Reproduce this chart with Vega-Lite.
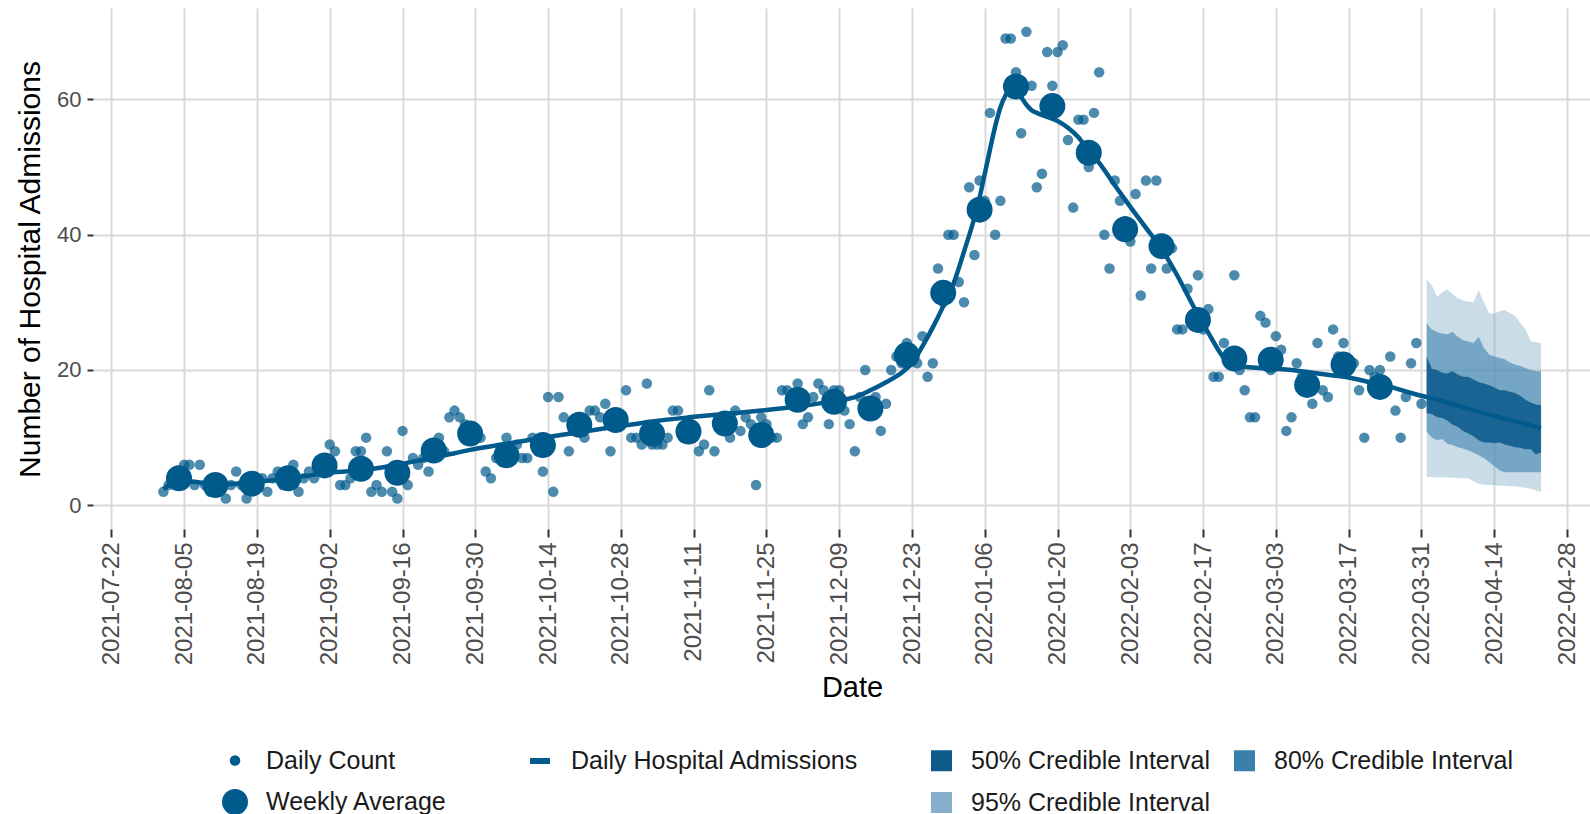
{
"$schema": "https://vega.github.io/schema/vega-lite/v6.json",
"autosize": {"type": "none"},
"padding": {"left": 93, "top": 8, "right": 0, "bottom": 285},
"width": 1497,
"height": 521,
"background": "white",
"config": {
  "font": "Liberation Sans",
  "view": {"stroke": null},
  "legend": {"labelFont": "Liberation Sans", "labelFontSize": 25, "labelColor": "#1a1a1a", "labelLimit": 400}
},
"datasets": {
  "daily": [
    {"date":"2021-08-01","v":2},{"date":"2021-08-02","v":3},{"date":"2021-08-03","v":4},{"date":"2021-08-04","v":4},{"date":"2021-08-05","v":6},{"date":"2021-08-06","v":6},{"date":"2021-08-07","v":3},
    {"date":"2021-08-08","v":6},{"date":"2021-08-09","v":3},{"date":"2021-08-10","v":2},{"date":"2021-08-11","v":3},{"date":"2021-08-12","v":3},{"date":"2021-08-13","v":1},{"date":"2021-08-14","v":3},
    {"date":"2021-08-15","v":5},{"date":"2021-08-16","v":3},{"date":"2021-08-17","v":1},{"date":"2021-08-18","v":4},{"date":"2021-08-19","v":3},{"date":"2021-08-20","v":4},{"date":"2021-08-21","v":2},
    {"date":"2021-08-22","v":4},{"date":"2021-08-23","v":5},{"date":"2021-08-24","v":3},{"date":"2021-08-25","v":4},{"date":"2021-08-26","v":6},{"date":"2021-08-27","v":2},{"date":"2021-08-28","v":4},
    {"date":"2021-08-29","v":5},{"date":"2021-08-30","v":4},{"date":"2021-08-31","v":6},{"date":"2021-09-01","v":6},{"date":"2021-09-02","v":9},{"date":"2021-09-03","v":8},{"date":"2021-09-04","v":3},
    {"date":"2021-09-05","v":3},{"date":"2021-09-06","v":4},{"date":"2021-09-07","v":8},{"date":"2021-09-08","v":8},{"date":"2021-09-09","v":10},{"date":"2021-09-10","v":2},{"date":"2021-09-11","v":3},
    {"date":"2021-09-12","v":2},{"date":"2021-09-13","v":8},{"date":"2021-09-14","v":2},{"date":"2021-09-15","v":1},{"date":"2021-09-16","v":11},{"date":"2021-09-17","v":3},{"date":"2021-09-18","v":7},
    {"date":"2021-09-19","v":6},{"date":"2021-09-20","v":7},{"date":"2021-09-21","v":5},{"date":"2021-09-22","v":9},{"date":"2021-09-23","v":10},{"date":"2021-09-24","v":8},{"date":"2021-09-25","v":13},
    {"date":"2021-09-26","v":14},{"date":"2021-09-27","v":13},{"date":"2021-09-28","v":12},{"date":"2021-09-29","v":10},{"date":"2021-09-30","v":10},{"date":"2021-10-01","v":10},{"date":"2021-10-02","v":5},
    {"date":"2021-10-03","v":4},{"date":"2021-10-04","v":7},{"date":"2021-10-05","v":8},{"date":"2021-10-06","v":10},{"date":"2021-10-07","v":7},{"date":"2021-10-08","v":9},{"date":"2021-10-09","v":7},
    {"date":"2021-10-10","v":7},{"date":"2021-10-11","v":10},{"date":"2021-10-12","v":8},{"date":"2021-10-13","v":5},{"date":"2021-10-14","v":16},{"date":"2021-10-15","v":2},{"date":"2021-10-16","v":16},
    {"date":"2021-10-17","v":13},{"date":"2021-10-18","v":8},{"date":"2021-10-19","v":12},{"date":"2021-10-20","v":12},{"date":"2021-10-21","v":10},{"date":"2021-10-22","v":14},{"date":"2021-10-23","v":14},
    {"date":"2021-10-24","v":13},{"date":"2021-10-25","v":15},{"date":"2021-10-26","v":8},{"date":"2021-10-27","v":13},{"date":"2021-10-28","v":12},{"date":"2021-10-29","v":17},{"date":"2021-10-30","v":10},
    {"date":"2021-10-31","v":10},{"date":"2021-11-01","v":9},{"date":"2021-11-02","v":18},{"date":"2021-11-03","v":9},{"date":"2021-11-04","v":9},{"date":"2021-11-05","v":9},{"date":"2021-11-06","v":10},
    {"date":"2021-11-07","v":14},{"date":"2021-11-08","v":14},{"date":"2021-11-09","v":10},{"date":"2021-11-10","v":11},{"date":"2021-11-11","v":10},{"date":"2021-11-12","v":8},{"date":"2021-11-13","v":9},
    {"date":"2021-11-14","v":17},{"date":"2021-11-15","v":8},{"date":"2021-11-16","v":12},{"date":"2021-11-17","v":13},{"date":"2021-11-18","v":10},{"date":"2021-11-19","v":14},{"date":"2021-11-20","v":11},
    {"date":"2021-11-21","v":13},{"date":"2021-11-22","v":12},{"date":"2021-11-23","v":3},{"date":"2021-11-24","v":13},{"date":"2021-11-25","v":12},{"date":"2021-11-26","v":10},{"date":"2021-11-27","v":10},
    {"date":"2021-11-28","v":17},{"date":"2021-11-29","v":17},{"date":"2021-11-30","v":16},{"date":"2021-12-01","v":18},{"date":"2021-12-02","v":12},{"date":"2021-12-03","v":13},{"date":"2021-12-04","v":16},
    {"date":"2021-12-05","v":18},{"date":"2021-12-06","v":17},{"date":"2021-12-07","v":12},{"date":"2021-12-08","v":17},{"date":"2021-12-09","v":17},{"date":"2021-12-10","v":14},{"date":"2021-12-11","v":12},
    {"date":"2021-12-12","v":8},{"date":"2021-12-13","v":16},{"date":"2021-12-14","v":20},{"date":"2021-12-15","v":14},{"date":"2021-12-16","v":16},{"date":"2021-12-17","v":11},{"date":"2021-12-18","v":15},
    {"date":"2021-12-19","v":20},{"date":"2021-12-20","v":22},{"date":"2021-12-21","v":21},{"date":"2021-12-22","v":24},{"date":"2021-12-23","v":22},{"date":"2021-12-24","v":21},{"date":"2021-12-25","v":25},
    {"date":"2021-12-26","v":19},{"date":"2021-12-27","v":21},{"date":"2021-12-28","v":35},{"date":"2021-12-29","v":30},{"date":"2021-12-30","v":40},{"date":"2021-12-31","v":40},{"date":"2022-01-01","v":33},
    {"date":"2022-01-02","v":30},{"date":"2022-01-03","v":47},{"date":"2022-01-04","v":37},{"date":"2022-01-05","v":48},{"date":"2022-01-06","v":45},{"date":"2022-01-07","v":58},{"date":"2022-01-08","v":40},
    {"date":"2022-01-09","v":45},{"date":"2022-01-10","v":69},{"date":"2022-01-11","v":69},{"date":"2022-01-12","v":64},{"date":"2022-01-13","v":55},{"date":"2022-01-14","v":70},{"date":"2022-01-15","v":62},
    {"date":"2022-01-16","v":47},{"date":"2022-01-17","v":49},{"date":"2022-01-18","v":67},{"date":"2022-01-19","v":62},{"date":"2022-01-20","v":67},{"date":"2022-01-21","v":68},{"date":"2022-01-22","v":54},
    {"date":"2022-01-23","v":44},{"date":"2022-01-24","v":57},{"date":"2022-01-25","v":57},{"date":"2022-01-26","v":50},{"date":"2022-01-27","v":58},{"date":"2022-01-28","v":64},{"date":"2022-01-29","v":40},
    {"date":"2022-01-30","v":35},{"date":"2022-01-31","v":48},{"date":"2022-02-01","v":45},{"date":"2022-02-02","v":42},{"date":"2022-02-03","v":39},{"date":"2022-02-04","v":46},{"date":"2022-02-05","v":31},
    {"date":"2022-02-06","v":48},{"date":"2022-02-07","v":35},{"date":"2022-02-08","v":48},{"date":"2022-02-09","v":38},{"date":"2022-02-10","v":35},{"date":"2022-02-11","v":38},{"date":"2022-02-12","v":26},
    {"date":"2022-02-13","v":26},{"date":"2022-02-14","v":32},{"date":"2022-02-15","v":28},{"date":"2022-02-16","v":34},{"date":"2022-02-17","v":26},{"date":"2022-02-18","v":29},{"date":"2022-02-19","v":19},
    {"date":"2022-02-20","v":19},{"date":"2022-02-21","v":24},{"date":"2022-02-22","v":22},{"date":"2022-02-23","v":34},{"date":"2022-02-24","v":20},{"date":"2022-02-25","v":17},{"date":"2022-02-26","v":13},
    {"date":"2022-02-27","v":13},{"date":"2022-02-28","v":28},{"date":"2022-03-01","v":27},{"date":"2022-03-02","v":20},{"date":"2022-03-03","v":25},{"date":"2022-03-04","v":23},{"date":"2022-03-05","v":11},
    {"date":"2022-03-06","v":13},{"date":"2022-03-07","v":21},{"date":"2022-03-08","v":19},{"date":"2022-03-09","v":17},{"date":"2022-03-10","v":15},{"date":"2022-03-11","v":24},{"date":"2022-03-12","v":17},
    {"date":"2022-03-13","v":16},{"date":"2022-03-14","v":26},{"date":"2022-03-15","v":22},{"date":"2022-03-16","v":24},{"date":"2022-03-17","v":20},{"date":"2022-03-18","v":21},{"date":"2022-03-19","v":17},
    {"date":"2022-03-20","v":10},{"date":"2022-03-21","v":20},{"date":"2022-03-22","v":19},{"date":"2022-03-23","v":20},{"date":"2022-03-24","v":17},{"date":"2022-03-25","v":22},{"date":"2022-03-26","v":14},
    {"date":"2022-03-27","v":10},{"date":"2022-03-28","v":16},{"date":"2022-03-29","v":21},{"date":"2022-03-30","v":24},{"date":"2022-03-31","v":15}
  ],
  "weekly": [
    {"date":"2021-08-04","v":4.0},{"date":"2021-08-11","v":3.0},{"date":"2021-08-18","v":3.2},{"date":"2021-08-25","v":4.0},
    {"date":"2021-09-01","v":5.9},{"date":"2021-09-08","v":5.4},{"date":"2021-09-15","v":4.8},{"date":"2021-09-22","v":8.1},
    {"date":"2021-09-29","v":10.6},{"date":"2021-10-06","v":7.4},{"date":"2021-10-13","v":8.9},{"date":"2021-10-20","v":11.9},
    {"date":"2021-10-27","v":12.6},{"date":"2021-11-03","v":10.6},{"date":"2021-11-10","v":10.9},{"date":"2021-11-17","v":12.1},
    {"date":"2021-11-24","v":10.4},{"date":"2021-12-01","v":15.6},{"date":"2021-12-08","v":15.3},{"date":"2021-12-15","v":14.3},
    {"date":"2021-12-22","v":22.2},{"date":"2021-12-29","v":31.4},{"date":"2022-01-05","v":43.7},{"date":"2022-01-12","v":61.9},
    {"date":"2022-01-19","v":59.0},{"date":"2022-01-26","v":52.1},{"date":"2022-02-02","v":40.8},{"date":"2022-02-09","v":38.3},
    {"date":"2022-02-16","v":27.4},{"date":"2022-02-23","v":21.7},{"date":"2022-03-02","v":21.5},{"date":"2022-03-09","v":17.8},
    {"date":"2022-03-16","v":20.8},{"date":"2022-03-23","v":17.5}
  ],
  "line": [
    {"date":"2021-08-01","v":2.4},{"date":"2021-08-04","v":3.6},{"date":"2021-08-07","v":3.5},{"date":"2021-08-11","v":3.1},
    {"date":"2021-08-15","v":3.2},{"date":"2021-08-18","v":3.4},{"date":"2021-08-22","v":3.7},{"date":"2021-08-25","v":4.0},
    {"date":"2021-08-29","v":4.4},{"date":"2021-09-01","v":4.8},{"date":"2021-09-05","v":5.0},{"date":"2021-09-08","v":5.2},
    {"date":"2021-09-12","v":5.6},{"date":"2021-09-15","v":6.0},{"date":"2021-09-19","v":6.6},{"date":"2021-09-22","v":7.1},
    {"date":"2021-09-26","v":7.7},{"date":"2021-09-29","v":8.2},{"date":"2021-10-06","v":9.1},{"date":"2021-10-13","v":10.0},
    {"date":"2021-10-20","v":10.8},{"date":"2021-10-27","v":11.6},{"date":"2021-11-03","v":12.4},{"date":"2021-11-10","v":13.0},
    {"date":"2021-11-17","v":13.5},{"date":"2021-11-24","v":14.0},{"date":"2021-12-01","v":14.6},{"date":"2021-12-08","v":15.4},
    {"date":"2021-12-12","v":16.0},{"date":"2021-12-15","v":17.0},{"date":"2021-12-18","v":18.2},{"date":"2021-12-21","v":19.6},
    {"date":"2021-12-23","v":21.0},{"date":"2021-12-25","v":23.5},{"date":"2021-12-27","v":26.3},{"date":"2021-12-29","v":29.4},
    {"date":"2021-12-31","v":32.8},{"date":"2022-01-02","v":37.5},{"date":"2022-01-04","v":42.5},{"date":"2022-01-05","v":45.5},
    {"date":"2022-01-06","v":49.0},{"date":"2022-01-07","v":52.6},{"date":"2022-01-08","v":56.0},{"date":"2022-01-09","v":58.8},
    {"date":"2022-01-10","v":60.6},{"date":"2022-01-11","v":61.6},{"date":"2022-01-12","v":61.4},{"date":"2022-01-13","v":60.3},
    {"date":"2022-01-14","v":59.2},{"date":"2022-01-15","v":58.4},{"date":"2022-01-16","v":58.0},{"date":"2022-01-18","v":57.4},
    {"date":"2022-01-20","v":56.8},{"date":"2022-01-22","v":55.8},{"date":"2022-01-24","v":54.4},{"date":"2022-01-26","v":52.4},
    {"date":"2022-01-28","v":50.6},{"date":"2022-01-31","v":47.3},{"date":"2022-02-03","v":44.1},{"date":"2022-02-06","v":41.0},
    {"date":"2022-02-09","v":37.9},{"date":"2022-02-12","v":34.0},{"date":"2022-02-15","v":29.6},{"date":"2022-02-18","v":25.5},
    {"date":"2022-02-21","v":21.8},{"date":"2022-02-23","v":20.7},{"date":"2022-02-26","v":20.4},{"date":"2022-03-02","v":20.2},
    {"date":"2022-03-06","v":20.0},{"date":"2022-03-10","v":19.6},{"date":"2022-03-14","v":19.2},{"date":"2022-03-17","v":18.9},
    {"date":"2022-03-21","v":18.2},{"date":"2022-03-25","v":17.5},{"date":"2022-03-29","v":16.6},{"date":"2022-04-01","v":16.0},
    {"date":"2022-04-05","v":15.2},{"date":"2022-04-09","v":14.3},{"date":"2022-04-13","v":13.4},{"date":"2022-04-17","v":12.6},
    {"date":"2022-04-21","v":11.8},{"date":"2022-04-23","v":11.4}
  ],
  "bands": [
    {"date":"2022-04-01","lo95":4.2,"hi95":33.4,"lo80":10.9,"hi80":26.9,"lo50":13.6,"hi50":22.0},
    {"date":"2022-04-02","lo95":4.2,"hi95":32.5,"lo80":10.0,"hi80":26.0,"lo50":13.5,"hi50":20.2},
    {"date":"2022-04-03","lo95":4.1,"hi95":30.8,"lo80":9.6,"hi80":25.6,"lo50":13.0,"hi50":20.0},
    {"date":"2022-04-04","lo95":4.2,"hi95":31.5,"lo80":9.8,"hi80":25.4,"lo50":12.9,"hi50":19.6},
    {"date":"2022-04-05","lo95":4.1,"hi95":31.9,"lo80":9.1,"hi80":25.3,"lo50":12.5,"hi50":19.5},
    {"date":"2022-04-06","lo95":4.1,"hi95":31.2,"lo80":8.9,"hi80":25.6,"lo50":11.9,"hi50":19.8},
    {"date":"2022-04-07","lo95":4.0,"hi95":30.6,"lo80":8.6,"hi80":24.9,"lo50":11.6,"hi50":19.3},
    {"date":"2022-04-08","lo95":4.0,"hi95":30.3,"lo80":8.4,"hi80":24.4,"lo50":11.0,"hi50":19.0},
    {"date":"2022-04-09","lo95":4.0,"hi95":30.1,"lo80":8.1,"hi80":24.2,"lo50":10.6,"hi50":19.0},
    {"date":"2022-04-10","lo95":3.6,"hi95":30.0,"lo80":7.8,"hi80":24.0,"lo50":10.2,"hi50":18.6},
    {"date":"2022-04-11","lo95":3.2,"hi95":31.8,"lo80":7.4,"hi80":24.9,"lo50":9.6,"hi50":18.2},
    {"date":"2022-04-12","lo95":3.0,"hi95":30.0,"lo80":7.0,"hi80":23.3,"lo50":9.3,"hi50":18.0},
    {"date":"2022-04-13","lo95":3.0,"hi95":28.4,"lo80":6.4,"hi80":22.3,"lo50":9.3,"hi50":17.8},
    {"date":"2022-04-14","lo95":3.0,"hi95":28.3,"lo80":5.8,"hi80":22.0,"lo50":9.2,"hi50":17.4},
    {"date":"2022-04-15","lo95":2.9,"hi95":28.7,"lo80":5.2,"hi80":21.8,"lo50":9.3,"hi50":17.0},
    {"date":"2022-04-16","lo95":2.9,"hi95":28.9,"lo80":4.9,"hi80":21.6,"lo50":9.0,"hi50":17.0},
    {"date":"2022-04-17","lo95":2.8,"hi95":28.4,"lo80":4.9,"hi80":21.1,"lo50":8.8,"hi50":16.8},
    {"date":"2022-04-18","lo95":2.8,"hi95":28.0,"lo80":4.9,"hi80":20.8,"lo50":8.6,"hi50":16.6},
    {"date":"2022-04-19","lo95":2.7,"hi95":27.0,"lo80":4.9,"hi80":20.6,"lo50":8.5,"hi50":16.2},
    {"date":"2022-04-20","lo95":2.6,"hi95":26.0,"lo80":4.9,"hi80":20.3,"lo50":8.3,"hi50":15.6},
    {"date":"2022-04-21","lo95":2.5,"hi95":24.3,"lo80":4.9,"hi80":20.0,"lo50":8.3,"hi50":15.2},
    {"date":"2022-04-22","lo95":2.2,"hi95":24.1,"lo80":4.9,"hi80":19.8,"lo50":7.5,"hi50":14.9},
    {"date":"2022-04-23","lo95":2.0,"hi95":24.0,"lo80":4.9,"hi80":19.8,"lo50":7.8,"hi50":14.8}
  ]
},
"encoding": {
  "x": {
    "field": "date", "type": "temporal",
    "scale": {"type": "utc", "domain": [{"utc": true, "year": 2021, "month": 7, "date": 18, "hours": 11}, {"utc": true, "year": 2022, "month": 5, "date": 2, "hours": 10}]},
    "axis": {
      "title": "Date",
      "values": [
        {"utc":true,"year":2021,"month":7,"date":22},{"utc":true,"year":2021,"month":8,"date":5},{"utc":true,"year":2021,"month":8,"date":19},
        {"utc":true,"year":2021,"month":9,"date":2},{"utc":true,"year":2021,"month":9,"date":16},{"utc":true,"year":2021,"month":9,"date":30},
        {"utc":true,"year":2021,"month":10,"date":14},{"utc":true,"year":2021,"month":10,"date":28},{"utc":true,"year":2021,"month":11,"date":11},
        {"utc":true,"year":2021,"month":11,"date":25},{"utc":true,"year":2021,"month":12,"date":9},{"utc":true,"year":2021,"month":12,"date":23},
        {"utc":true,"year":2022,"month":1,"date":6},{"utc":true,"year":2022,"month":1,"date":20},{"utc":true,"year":2022,"month":2,"date":3},
        {"utc":true,"year":2022,"month":2,"date":17},{"utc":true,"year":2022,"month":3,"date":3},{"utc":true,"year":2022,"month":3,"date":17},
        {"utc":true,"year":2022,"month":3,"date":31},{"utc":true,"year":2022,"month":4,"date":14},{"utc":true,"year":2022,"month":4,"date":28}
      ],
      "format": "%Y-%m-%d",
      "labelAngle": 270,
      "labelFontSize": 24,
      "labelColor": "#4d4d4d",
      "labelPadding": 5,
      "labelFlush": false,
      "labelOverlap": false,
      "tickSize": 8,
      "tickWidth": 2,
      "tickColor": "#333333",
      "domain": false,
      "grid": true,
      "gridColor": "#d9d9d9",
      "gridWidth": 2,
      "titleFontSize": 29,
      "titleFontWeight": "normal",
      "titleColor": "#000000",
      "titleX": 759,
      "titleY": 158,
      "titleBaseline": "middle"
    }
  },
  "y": {
    "field": "v", "type": "quantitative",
    "scale": {"domain": [-3.5, 73.5], "nice": false, "zero": false},
    "axis": {
      "title": "Number of Hospital Admissions",
      "values": [0, 20, 40, 60],
      "labelFontSize": 22,
      "labelColor": "#4d4d4d",
      "labelPadding": 6,
      "tickSize": 6,
      "tickWidth": 2,
      "tickColor": "#333333",
      "domain": false,
      "grid": true,
      "gridColor": "#d9d9d9",
      "gridWidth": 2,
      "titleFontSize": 30,
      "titleFontWeight": "normal",
      "titleColor": "#000000",
      "titleX": -63,
      "titleY": 261,
      "titleAngle": 270,
      "titleBaseline": "middle"
    }
  }
},
"layer": [
  {
    "data": {"name": "bands"},
    "mark": {"type": "area", "opacity": 0.44},
    "encoding": {
      "y": {"field": "lo95", "type": "quantitative"},
      "y2": {"field": "hi95"},
      "fill": {"datum": "95% Credible Interval", "type": "nominal",
        "scale": {"domain": ["50% Credible Interval", "80% Credible Interval", "95% Credible Interval"], "range": ["#0d5a8b", "#3a80ac", "#85afcb"]},
        "legend": {"title": null, "orient": "none", "legendX": 836, "legendY": 740, "columns": 2, "direction": "horizontal", "symbolType": "square", "symbolSize": 441, "symbolOpacity": 1, "symbolStrokeWidth": 0, "labelOffset": 17, "columnPadding": 21, "rowPadding": 16,
          "encode": {"symbols": {"update": {"opacity": {"value": 1}, "fillOpacity": {"value": 1}}}}}
      }
    }
  },
  {
    "data": {"name": "bands"},
    "mark": {"type": "area", "opacity": 0.58},
    "encoding": {
      "y": {"field": "lo80", "type": "quantitative"},
      "y2": {"field": "hi80"},
      "fill": {"datum": "80% Credible Interval", "type": "nominal"}
    }
  },
  {
    "data": {"name": "bands"},
    "mark": {"type": "area", "opacity": 0.87},
    "encoding": {
      "y": {"field": "lo50", "type": "quantitative"},
      "y2": {"field": "hi50"},
      "fill": {"datum": "50% Credible Interval", "type": "nominal"}
    }
  },
  {
    "data": {"name": "daily"},
    "mark": {"type": "circle", "color": "#005a8c", "opacity": 0.7},
    "encoding": {
      "size": {"datum": "Daily Count", "type": "ordinal",
        "scale": {"domain": ["Daily Count", "Weekly Average"], "range": [110, 676]},
        "legend": {"title": null, "orient": "none", "legendX": 129, "legendY": 740, "direction": "vertical", "symbolFillColor": "#005a8c", "symbolStrokeColor": "#005a8c", "symbolOpacity": 1, "symbolStrokeWidth": 0, "labelOffset": 18, "rowPadding": 15}
      }
    }
  },
  {
    "data": {"name": "line"},
    "mark": {"type": "line", "interpolate": "monotone", "strokeWidth": 4.5},
    "encoding": {
      "stroke": {"datum": "Daily Hospital Admissions", "type": "nominal",
        "scale": {"domain": ["Daily Hospital Admissions"], "range": ["#005a8c"]},
        "legend": {"title": null, "orient": "none", "legendX": 434, "legendY": 740, "symbolType": "stroke", "symbolSize": 400, "symbolStrokeWidth": 6, "labelOffset": 18}
      }
    }
  },
  {
    "data": {"name": "weekly"},
    "mark": {"type": "circle", "color": "#005a8c", "opacity": 1},
    "encoding": {
      "size": {"datum": "Weekly Average", "type": "ordinal"}
    }
  }
]
}
